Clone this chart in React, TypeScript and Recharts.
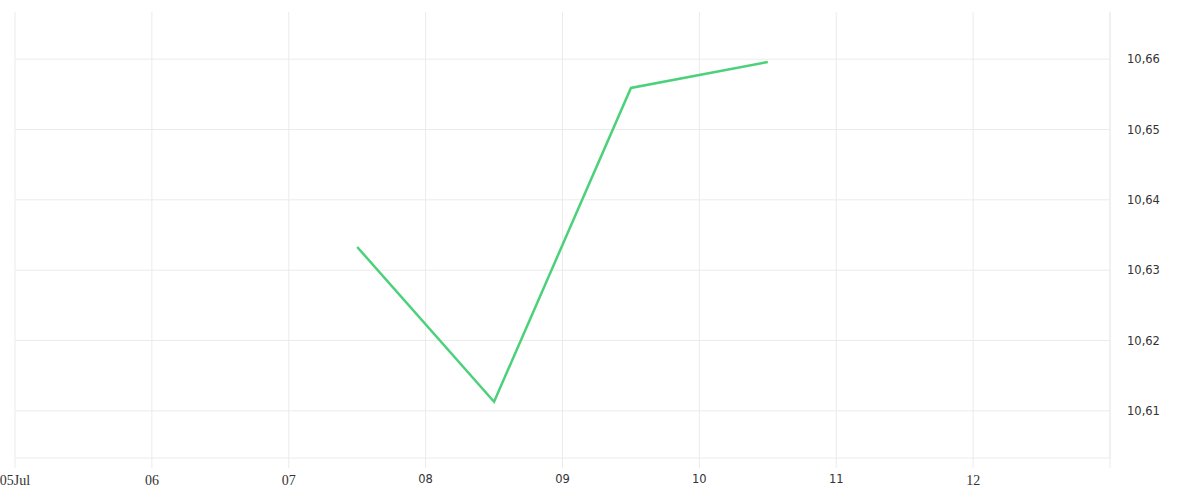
import React from 'react';
import { LineChart, Line, XAxis, YAxis, CartesianGrid, ReferenceLine } from 'recharts';

// day of July (12:00 = .5)
const days = [7.5, 8.5, 9.5, 10.5];
const prices = [10.6333, 10.6113, 10.6559, 10.6596];

const dayTicks = [5, 6, 7, 8, 9, 10, 11, 12, 13];
const dayLabels = ['05Jul', '06', '07', '08', '09', '10', '11', '12', ''];
// the source renders some day labels in a sans face
const sansDays = [8, 9, 10, 11];
const priceTicks = [10.61, 10.62, 10.63, 10.64, 10.65, 10.66];

const data = days.map((d, i) => ({ day: d, price: prices[i] }));

const DayTick = ({ x, y, payload }: any) => {
  const label = dayLabels[dayTicks.indexOf(payload.value)] ?? '';
  const sans = sansDays.includes(payload.value);
  return (
    <text
      x={x}
      y={y}
      dy="0.71em"
      textAnchor="middle"
      fill="#333"
      fontSize={sans ? 11.5 : 14}
      fontFamily={sans ? 'DejaVu Sans' : 'Liberation Serif'}
    >
      {label}
    </text>
  );
};

const App: React.FC = () => {
  return (
    <div style={{ position: 'absolute', left: 0, top: 0, background: '#fff' }}>
      <LineChart width={1200} height={500} data={data} margin={{ top: 12, right: 0, left: 15, bottom: 0 }}>
        <CartesianGrid stroke="#ebebeb" strokeWidth={1} horizontal={false} />
        {priceTicks.map((t) => (
          <ReferenceLine key={t} y={t} stroke="#ebebeb" strokeWidth={1} />
        ))}
        <XAxis
          dataKey="day"
          type="number"
          domain={[5, 13]}
          ticks={dayTicks}
          height={42}
          tickSize={10}
          tickMargin={7}
          axisLine={{ stroke: '#ebebeb' }}
          tickLine={{ stroke: '#ebebeb' }}
          tick={<DayTick />}
          interval={0}
        />
        <YAxis
          orientation="right"
          type="number"
          domain={[10.6033, 10.6667]}
          ticks={priceTicks}
          tickFormatter={(v: number) => v.toFixed(2).replace('.', ',')}
          width={90}
          tickSize={0}
          tickMargin={17}
          axisLine={{ stroke: '#ebebeb' }}
          tickLine={false}
          tick={{ fill: '#333', fontSize: 11.5, fontFamily: 'DejaVu Sans', textAnchor: 'start' }}
        />
        <Line
          type="linear"
          dataKey="price"
          stroke="#4cd17b"
          strokeWidth={2.5}
          dot={false}
          isAnimationActive={false}
        />
      </LineChart>
    </div>
  );
};

export default App;
